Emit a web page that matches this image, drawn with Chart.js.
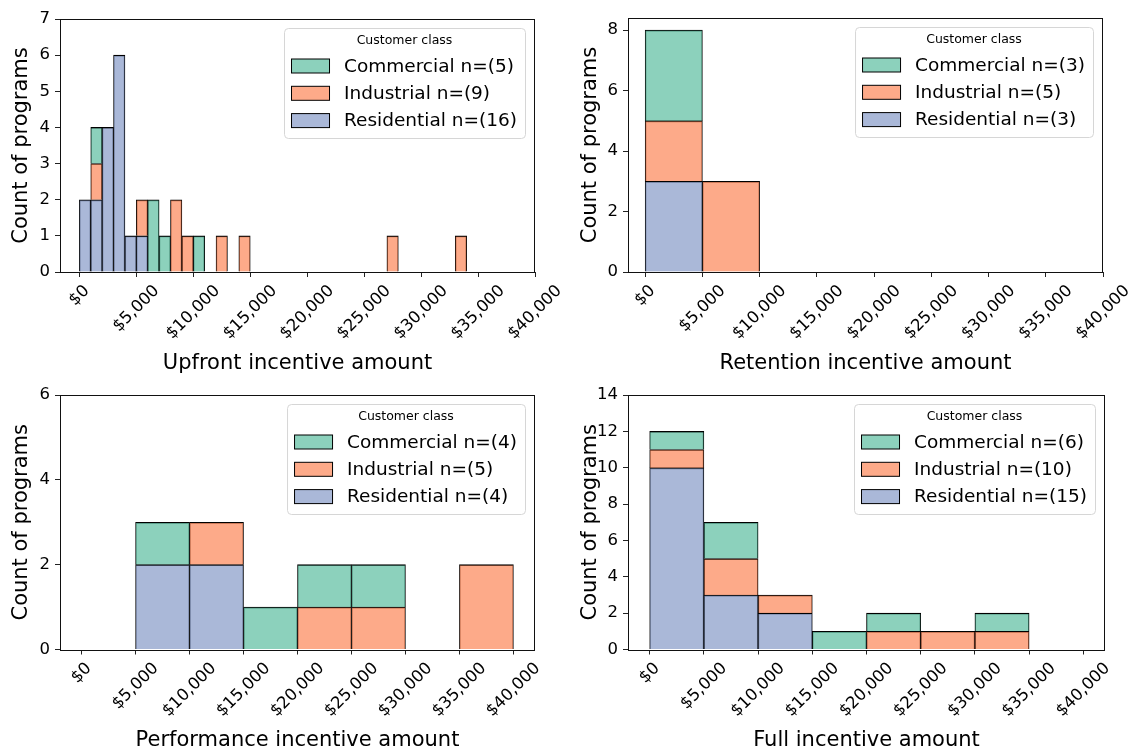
<!DOCTYPE html>
<html>
<head>
<meta charset="utf-8">
<script src="https://cdn.jsdelivr.net/npm/chart.js@4.4.1/dist/chart.umd.min.js"></script>
<style>
  body { margin: 0; background: #fff; }
  #wrap { position: relative; width: 1132px; height: 751px; overflow: hidden; }
  canvas { position: absolute; }
</style>
</head>
<body>
<div id="wrap">
  <canvas id="upfront" width="566" height="376" style="left:0;top:0"></canvas>
  <canvas id="retention" width="566" height="376" style="left:566px;top:0"></canvas>
  <canvas id="performance" width="566" height="375" style="left:0;top:376px"></canvas>
  <canvas id="full" width="566" height="375" style="left:566px;top:376px"></canvas>
</div>
<script>
// x ticks shared by all four panels
const xTickValues = [0, 5000, 10000, 15000, 20000, 25000, 30000, 35000, 40000];
const xTickLabels = ['$0', '$5,000', '$10,000', '$15,000', '$20,000', '$25,000', '$30,000', '$35,000', '$40,000'];
const classNames = ['Commercial', 'Industrial', 'Residential'];

// Upfront incentive: $1,000 bins from $0 to $34,000
const upfrontBinWidth = 1000;
const upfrontCommercial  = [0,1,0,0,0,0,2,1,0,0,1,0,0,0,0,0,0,0,0,0,0,0,0,0,0,0,0,0,0,0,0,0,0,0];
const upfrontIndustrial  = [0,1,0,0,0,1,0,0,2,1,0,0,1,0,1,0,0,0,0,0,0,0,0,0,0,0,0,1,0,0,0,0,0,1];
const upfrontResidential = [2,2,4,6,1,1,0,0,0,0,0,0,0,0,0,0,0,0,0,0,0,0,0,0,0,0,0,0,0,0,0,0,0,0];
const upfrontN = [5, 9, 16];
const upfrontYTicks = [0, 1, 2, 3, 4, 5, 6, 7];

// Retention incentive: $5,000 bins from $0 to $30,000
const retentionBinWidth = 5000;
const retentionCommercial  = [3, 0, 0, 0, 0, 0];
const retentionIndustrial  = [2, 3, 0, 0, 0, 0];
const retentionResidential = [3, 0, 0, 0, 0, 0];
const retentionN = [3, 5, 3];
const retentionYTicks = [0, 2, 4, 6, 8];

// Performance incentive: $5,000 bins from $0 to $40,000
const performanceBinWidth = 5000;
const performanceCommercial  = [0, 1, 0, 1, 1, 1, 0, 0];
const performanceIndustrial  = [0, 0, 1, 0, 1, 1, 0, 2];
const performanceResidential = [0, 2, 2, 0, 0, 0, 0, 0];
const performanceN = [4, 5, 4];
const performanceYTicks = [0, 2, 4, 6];

// Full incentive: $5,000 bins from $0 to $40,000
const fullBinWidth = 5000;
const fullCommercial  = [1, 2, 0, 1, 1, 0, 1, 0];
const fullIndustrial  = [1, 2, 1, 0, 1, 1, 1, 0];
const fullResidential = [10, 3, 2, 0, 0, 0, 0, 0];
const fullN = [6, 10, 15];
const fullYTicks = [0, 2, 4, 6, 8, 10, 12, 14];

const classColors = ['rgba(102,194,165,0.75)', 'rgba(252,141,98,0.75)', 'rgba(141,160,203,0.75)'];

Chart.defaults.font.family = '"DejaVu Sans", sans-serif';
Chart.defaults.color = '#000';
Chart.defaults.animation = false;

// box around the plot area, like matplotlib spines
const framePlugin = {
  id: 'frame',
  afterDatasetsDraw(chart) {
    const a = chart.chartArea;
    const ctx = chart.ctx;
    ctx.save();
    ctx.strokeStyle = '#111';
    ctx.lineWidth = 1;
    ctx.strokeRect(Math.round(a.left) + 0.5, Math.round(a.top) + 0.5,
      Math.round(a.right - a.left) - 1, Math.round(a.bottom - a.top));
    ctx.restore();
  }
};

// x tick labels rotated 45 deg and centred under the tick (matplotlib style)
const xTickPlugin = {
  id: 'mplXTicks',
  afterDraw(chart, args, o) {
    const scale = chart.scales.x;
    const ctx = chart.ctx;
    const c = Math.SQRT1_2;
    const h = o.size * 1.17;
    ctx.save();
    ctx.font = o.size + 'px "DejaVu Sans"';
    ctx.fillStyle = '#000';
    ctx.textAlign = 'center';
    ctx.textBaseline = 'middle';
    scale.ticks.forEach(t => {
      const w = ctx.measureText(t.label).width;
      const half = (w + h) * c / 2;
      ctx.save();
      ctx.translate(scale.getPixelForValue(t.value), scale.top + o.pad + half);
      ctx.rotate(-Math.PI / 4);
      ctx.fillText(t.label, 0, 0);
      ctx.restore();
    });
    ctx.restore();
  }
};

// legend in the upper right, drawn inside the axes
const legendPlugin = {
  id: 'mplLegend',
  afterDraw(chart, args, o) {
    const ctx = chart.ctx;
    const a = chart.chartArea;
    ctx.save();
    ctx.font = '18.5px "DejaVu Sans"';
    const textW = Math.max(...o.labels.map(t => ctx.measureText(t).width));
    const padL = 7.5, patchW = 38, patchH = 14, gap = 14.5, padR = 8;
    const w = padL + patchW + gap + textW + padR;
    const h = 110;
    const right = a.right - 10, top = a.top + 9;
    const left = right - w;

    ctx.beginPath();
    ctx.roundRect(left + 0.5, top + 0.5, w, h, 4);
    ctx.fillStyle = 'rgba(255,255,255,0.8)';
    ctx.fill();
    ctx.strokeStyle = '#d6d6d6';
    ctx.lineWidth = 1;
    ctx.stroke();

    ctx.fillStyle = '#000';
    ctx.font = '12.5px "DejaVu Sans"';
    ctx.textAlign = 'center';
    ctx.textBaseline = 'middle';
    ctx.fillText(o.title, left + w / 2, top + 13);

    ctx.font = '18.5px "DejaVu Sans"';
    ctx.textAlign = 'left';
    o.labels.forEach((label, i) => {
      const cy = top + 38 + i * 27.3;
      ctx.fillStyle = o.colors[i];
      ctx.fillRect(left + padL, cy - patchH / 2, patchW, patchH);
      ctx.strokeStyle = '#000';
      ctx.strokeRect(left + padL, cy - patchH / 2, patchW, patchH);
      ctx.fillStyle = '#000';
      ctx.fillText(label, left + padL + patchW + gap, cy + 1);
    });
    ctx.restore();
  }
};

function histPoints(values, binWidth) {
  return values.map((v, i) => ({ x: (i + 0.5) * binWidth, y: v }));
}

function makeHist(id, p) {
  const datasets = [
    { label: classNames[2], data: histPoints(p.residential, p.binWidth), backgroundColor: classColors[2] },
    { label: classNames[1], data: histPoints(p.industrial, p.binWidth), backgroundColor: classColors[1] },
    { label: classNames[0], data: histPoints(p.commercial, p.binWidth), backgroundColor: classColors[0] }
  ].map(d => Object.assign(d, {
    borderColor: '#000',
    borderWidth: { top: 1.1, bottom: 0, left: 0.8, right: 0.8 },
    borderSkipped: false,
    barPercentage: 1,
    categoryPercentage: 1
  }));

  return new Chart(document.getElementById(id), {
    type: 'bar',
    data: { datasets },
    options: {
      responsive: false,
      layout: { padding: { left: 0, top: p.padTop, right: p.padRight, bottom: 0 } },
      plugins: {
        legend: { display: false },
        tooltip: { enabled: false },
        mplXTicks: { size: 16.5, pad: 9.5 },
        mplLegend: {
          title: 'Customer class',
          labels: classNames.map((c, i) => c + ' n=(' + p.n[i] + ')'),
          colors: classColors
        }
      },
      scales: {
        x: {
          type: 'linear',
          stacked: true,
          offset: false,
          min: p.xMin,
          max: p.xMax,
          afterBuildTicks: s => { s.ticks = xTickValues.map(v => ({ value: v })); },
          afterFit: s => { s.height = p.xHeight; },
          grid: { drawOnChartArea: false, offset: false, color: '#222', tickLength: 5 },
          border: { display: false },
          ticks: {
            display: false,
            autoSkip: false,
            callback: (v, i) => xTickLabels[i]
          },
          title: {
            display: true,
            text: p.xTitle,
            font: { size: 21 },
            padding: { top: 0, bottom: p.xTitlePad }
          }
        },
        y: {
          stacked: true,
          min: 0,
          max: p.yMax,
          afterBuildTicks: s => { s.ticks = p.yTicks.map(v => ({ value: v })); },
          afterFit: s => { s.width = p.yWidth; },
          grid: { drawOnChartArea: false, color: '#222', tickLength: 5 },
          border: { display: false },
          ticks: { padding: 5, font: { size: 16.5 } },
          title: {
            display: true,
            text: 'Count of programs',
            font: { size: 21 },
            padding: { top: p.yTitlePad, bottom: 0 }
          }
        }
      }
    },
    plugins: [framePlugin, xTickPlugin, legendPlugin]
  });
}

makeHist('upfront', {
  commercial: upfrontCommercial, industrial: upfrontIndustrial, residential: upfrontResidential,
  binWidth: upfrontBinWidth, n: upfrontN, yTicks: upfrontYTicks, yMax: 7,
  xMin: -1700, xMax: 40000, xTitle: 'Upfront incentive amount',
  padTop: 19, padRight: 31, yWidth: 60, xHeight: 104, xTitlePad: -0.6, yTitlePad: 9.4
});
makeHist('retention', {
  commercial: retentionCommercial, industrial: retentionIndustrial, residential: retentionResidential,
  binWidth: retentionBinWidth, n: retentionN, yTicks: retentionYTicks, yMax: 8.4,
  xMin: -1500, xMax: 40000, xTitle: 'Retention incentive amount',
  padTop: 18, padRight: 29, yWidth: 62, xHeight: 104, xTitlePad: -0.6, yTitlePad: 12.4
});
makeHist('performance', {
  commercial: performanceCommercial, industrial: performanceIndustrial, residential: performanceResidential,
  binWidth: performanceBinWidth, n: performanceN, yTicks: performanceYTicks, yMax: 6,
  xMin: -2000, xMax: 42000, xTitle: 'Performance incentive amount',
  padTop: 19, padRight: 31, yWidth: 60, xHeight: 101.5, xTitlePad: -2.5, yTitlePad: 9.4
});
makeHist('full', {
  commercial: fullCommercial, industrial: fullIndustrial, residential: fullResidential,
  binWidth: fullBinWidth, n: fullN, yTicks: fullYTicks, yMax: 14,
  xMin: -2000, xMax: 42000, xTitle: 'Full incentive amount',
  padTop: 19, padRight: 27, yWidth: 62, xHeight: 101.5, xTitlePad: -2.5, yTitlePad: 12.4
});
</script>
</body>
</html>
